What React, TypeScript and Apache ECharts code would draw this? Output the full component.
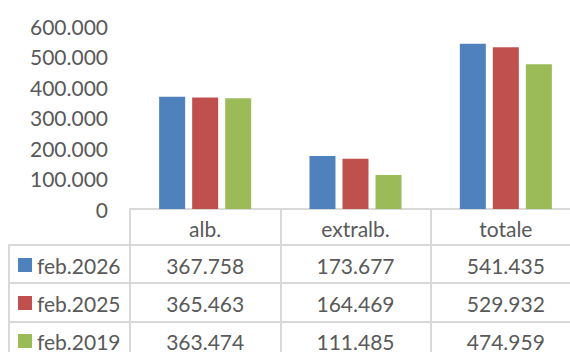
import React, { useEffect, useRef } from "react";
import * as echarts from "echarts";

const categories = ["alb.", "extralb.", "totale"];
const seriesNames = ["feb.2026", "feb.2025", "feb.2019"];
const feb2026 = [367758, 173677, 541435];
const feb2025 = [365463, 164469, 529932];
const feb2019 = [363474, 111485, 474959];
const seriesValues = [feb2026, feb2025, feb2019];
const yMax = 600000;
const yInterval = 100000;

const colors = ["#4F81BD", "#C0504D", "#9BBB59"];
const textColor = "#595959";
const lineColor = "#D9D9D9";
const FONT = "Lato, 'Open Sans', sans-serif";

function fmt(v: number): string {
  return String(Math.round(v)).replace(/\B(?=(\d{3})+(?!\d))/g, ".");
}

export default function App() {
  const ref = useRef<HTMLDivElement>(null);
  useEffect(() => {
    if (!ref.current) return;
    const chart = echarts.init(ref.current, undefined, { renderer: "svg" });
    const gridLeft = 130;
    const gridTop = 26;
    const gridHeight = 183;
    chart.setOption({
      animation: false,
      color: colors,
      textStyle: { fontFamily: FONT, color: textColor },
      grid: { left: gridLeft, top: gridTop, width: 451, height: gridHeight },
      xAxis: {
        type: "category",
        data: categories,
        axisLine: { show: true, lineStyle: { color: lineColor, width: 2 } },
        axisTick: { show: true, length: 150, lineStyle: { color: lineColor, width: 2 } },
        axisLabel: {
          margin: 8,
          fontFamily: FONT,
          fontSize: 21,
          lineHeight: 22,
          color: textColor,
        },
        splitLine: { show: false },
      },
      yAxis: {
        type: "value",
        min: 0,
        max: yMax,
        interval: yInterval,
        axisLine: { show: false },
        axisTick: { show: false },
        splitLine: { show: false },
        axisLabel: {
          margin: 22,
          fontFamily: FONT,
          fontSize: 21,
          color: textColor,
          formatter: (v: number) => fmt(v),
        },
      },
      series: seriesNames.map((name, i) => ({
        name,
        type: "bar",
        data: seriesValues[i],
        barWidth: 26,
        barGap: "27%",
        itemStyle: { color: colors[i] },
      })),
    });

    const rowLines = [245, 283, 322];
    const rowCenters = [265, 303, 341];
    const graphics: any[] = [];
    rowLines.forEach((y) => {
      graphics.push({
        type: "line",
        shape: { x1: 9, y1: y, x2: 600, y2: y },
        style: { stroke: lineColor, lineWidth: 2 },
        silent: true,
      });
    });
    graphics.push({
      type: "line",
      shape: { x1: 9, y1: 244, x2: 9, y2: 400 },
      style: { stroke: lineColor, lineWidth: 2 },
      silent: true,
    });
    seriesNames.forEach((name, si) => {
      graphics.push({
        type: "rect",
        shape: { x: 18, y: rowCenters[si] - 7, width: 14, height: 14 },
        style: { fill: colors[si] },
        silent: true,
      });
      graphics.push({
        type: "text",
        x: 37,
        y: rowCenters[si],
        silent: true,
        style: {
          text: name,
          textAlign: "left",
          textVerticalAlign: "middle",
          fontFamily: FONT,
          fontSize: 21,
          fill: textColor,
        },
      });
    });
    categories.forEach((c, ci) => {
      const x = chart.convertToPixel({ xAxisIndex: 0 }, c) as number;
      seriesValues.forEach((vals, si) => {
        graphics.push({
          type: "text",
          x,
          y: rowCenters[si],
          silent: true,
          style: {
            text: fmt(vals[ci]),
            textAlign: "center",
            textVerticalAlign: "middle",
            fontFamily: FONT,
            fontSize: 21,
            fill: textColor,
          },
        });
      });
    });
    chart.setOption({ graphic: graphics });
    return () => chart.dispose();
  }, []);
  return (
    <div
      style={{ position: "absolute", left: 0, top: 0, width: 570, height: 352, overflow: "hidden", background: "#fff" }}
    >
      <div ref={ref} style={{ width: 600, height: 352 }} />
    </div>
  );
}
